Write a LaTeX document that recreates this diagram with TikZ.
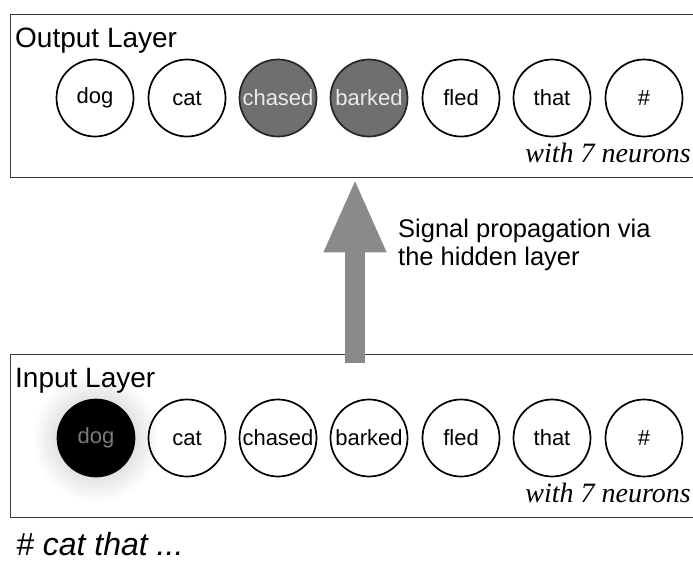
\documentclass[tikz,border=0pt]{standalone}
\usepackage{fontspec}
\setmainfont{Liberation Serif}
\setsansfont{Liberation Sans}
\usetikzlibrary{arrows.meta}
\definecolor{boxline}{HTML}{3A3A3A}
\definecolor{activegray}{HTML}{6F6F6F}
\definecolor{arrowgray}{HTML}{8A8A8A}
\definecolor{dimtext}{HTML}{7A7A7A}
\tikzset{
  layerbox/.style={draw=boxline, line width=1.3pt, anchor=north west,
    minimum width=700pt, minimum height=163pt, inner sep=0pt},
  neuron/.style={circle, draw=black, line width=1.7pt, minimum size=77pt,
    inner sep=0pt, font=\sffamily\fontsize{22pt}{25pt}\selectfont},
  active/.style={fill=activegray, draw=black!85, text=white!92!black},
  firing/.style={fill=black, text=dimtext},
  layertitle/.style={anchor=base west, inner sep=0pt,
    font=\sffamily\fontsize{28pt}{32pt}\selectfont},
  sizenote/.style={anchor=base east, inner sep=0pt,
    font=\rmfamily\itshape\fontsize{28pt}{32pt}\selectfont},
}
\begin{document}
\begin{tikzpicture}[x=1pt, y=-1pt]
\clip (0,0) rectangle (693,565);
\fill[white] (0,0) rectangle (693,565);

% output layer
\node[layerbox] (outbox) at (10,14) {};
\node[layertitle] (outtitle) at (15,47) {Output Layer};
\node[neuron] (o1) at (95,98) {dog};
\node[neuron] (o2) at (187,98) {cat};
\node[neuron, active] (o3) at (278,98) {chased};
\node[neuron, active] (o4) at (369,98) {barked};
\node[neuron] (o5) at (461,98) {fled};
\node[neuron] (o6) at (552,98) {that};
\node[neuron] (o7) at (644,98) {\#};
\node[sizenote] (outnote) at (691,162) {with 7 neurons};

% input layer: soft halo behind the firing neuron first
\coordinate (glow) at (96,438);
\shade[inner color=black!28, outer color=white] (glow) circle (64pt);
\node[layerbox] (inbox) at (10,354) {};
\node[layertitle] (intitle) at (15,387) {Input Layer};
\node[neuron, firing] (i1) at (glow) {dog};
\node[neuron] (i2) at (187,438) {cat};
\node[neuron] (i3) at (278,438) {chased};
\node[neuron] (i4) at (369,438) {barked};
\node[neuron] (i5) at (461,438) {fled};
\node[neuron] (i6) at (552,438) {that};
\node[neuron] (i7) at (644,438) {\#};
\node[sizenote] (innote) at (691,502) {with 7 neurons};

% propagation arrow between the layers
\coordinate (tail) at (355,363);
\draw[arrowgray, line width=20pt, -{Triangle[length=74pt, width=57pt]}]
  (tail) -- (tail |- outbox.south);
\node[anchor=base west, align=left, inner sep=0pt,
  font=\sffamily\fontsize{25.5pt}{28pt}\selectfont] (signal) at (398,265)
  {Signal propagation via\\the hidden layer};

% current sequence
\node[anchor=base west, inner sep=0pt,
  font=\sffamily\itshape\fontsize{32pt}{36pt}\selectfont] (seq) at (16,555)
  {\# cat that ...};
\end{tikzpicture}
\end{document}
